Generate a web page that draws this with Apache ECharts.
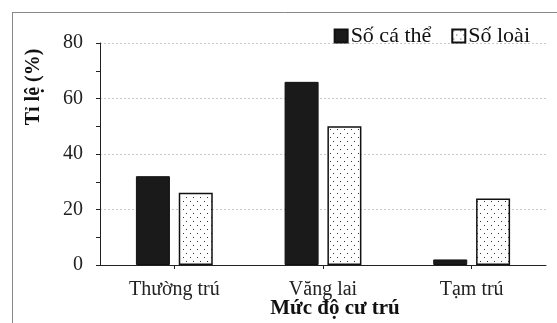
<!DOCTYPE html>
<html>
<head>
<meta charset="utf-8">
<script src="https://cdn.jsdelivr.net/npm/echarts@6/dist/echarts.min.js"></script>
<style>
html,body{margin:0;padding:0;background:#fff;}
#c{width:557px;height:323px;}
</style>
</head>
<body>
<div id="c"></div>
<script>
var categories = ['Thường trú', 'Văng lai', 'Tạm trú'];
var soCaThe = [32, 66, 2];
var soLoai = [26, 50, 24];
var yTicks = [0, 20, 40, 60, 80];
var seriesNames = ['Số cá thể', 'Số loài'];

var pc = document.createElement('canvas');
pc.width = 7; pc.height = 8;
var ctx = pc.getContext('2d');
ctx.fillStyle = '#fff';
ctx.fillRect(0, 0, 7, 8);
ctx.fillStyle = '#333';
ctx.fillRect(1, 1, 1, 1);
ctx.fillRect(4, 5, 1, 1);

var font = 'Liberation Serif';
var chart = echarts.init(document.getElementById('c'), null, {renderer: 'canvas'});
chart.setOption({
  animation: false,
  backgroundColor: '#fff',
  grid: {left: 100, right: 11, top: 43, bottom: 58, containLabel: false},
  legend: {
    data: seriesNames,
    right: 22, top: 20,
    icon: 'rect',
    itemWidth: 13, itemHeight: 13, itemGap: 20,
    textStyle: {fontFamily: font, fontSize: 22, color: '#111', padding: [0, 0, 0, -2]}
  },
  xAxis: {
    type: 'category',
    data: categories,
    axisLine: {lineStyle: {color: '#222', width: 1}},
    axisTick: {show: true, alignWithLabel: true, length: 4, lineStyle: {color: '#222'}},
    axisLabel: {fontFamily: font, fontSize: 20, color: '#222', margin: 15}
  },
  yAxis: {
    type: 'value',
    min: yTicks[0], max: yTicks[yTicks.length - 1], interval: 20,
    axisLine: {show: true, lineStyle: {color: '#222', width: 1}},
    axisTick: {show: true, length: 4, lineStyle: {color: '#222'}},
    minorTick: {show: true, splitNumber: 2, length: 4, lineStyle: {color: '#222'}},
    axisLabel: {fontFamily: font, fontSize: 20, color: '#222', margin: 17},
    splitLine: {show: true, lineStyle: {color: '#c8c8c8', type: [2, 2], width: 1}}
  },
  series: [
    {
      name: seriesNames[0], type: 'bar', data: soCaThe,
      barWidth: 34, barGap: '26%',
      itemStyle: {color: '#1a1a1a', borderColor: '#111', borderWidth: 1}
    },
    {
      name: seriesNames[1], type: 'bar', data: soLoai,
      barWidth: 34,
      itemStyle: {color: {image: pc, repeat: 'repeat'}, borderColor: '#111', borderWidth: 1.5}
    }
  ],
  graphic: [
    {type: 'line', shape: {x1: 12, y1: 12.5, x2: 557, y2: 12.5}, style: {stroke: '#888', lineWidth: 1}},
    {type: 'line', shape: {x1: 12.5, y1: 12, x2: 12.5, y2: 323}, style: {stroke: '#888', lineWidth: 1}},
    {type: 'text', x: 34, y: 87, rotation: Math.PI / 2,
      style: {text: 'Tỉ lệ (%)', font: 'bold 20px "Liberation Serif"', fill: '#111', align: 'center', verticalAlign: 'middle'}},
    {type: 'text', x: 335, y: 309,
      style: {text: 'Mức độ cư trú', font: 'bold 21px "Liberation Serif"', fill: '#111', align: 'center', verticalAlign: 'middle'}}
  ]
});
</script>
</body>
</html>
